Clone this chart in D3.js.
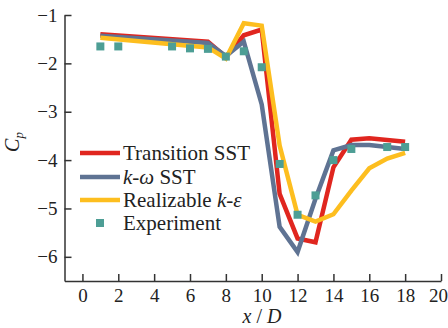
<!DOCTYPE html>
<html>
<head>
<meta charset="utf-8">
<script src="https://cdn.jsdelivr.net/npm/d3@7"></script>
<style>
  body { margin: 0; background: #fff; }
  svg { font-family: "Liberation Serif", "DejaVu Serif", serif; }
</style>
</head>
<body>
<svg id="svg" width="448" height="328"></svg>
<script>
// x / D positions of each series
var simX = [1, 7, 8, 9, 10, 11, 12, 13, 14, 15, 16, 18];
var realX = [1, 7, 8, 9, 10, 11, 12, 13, 14, 15, 16, 17, 18];
var expX = [1, 2, 5, 6, 7, 8, 9, 10, 11, 12, 13, 14, 15, 17, 18];

// Cp values
var transSST = [-1.40, -1.55, -1.87, -1.42, -1.30, -4.70, -5.62, -5.70, -4.15, -3.58, -3.55, -3.62];
var kwSST = [-1.43, -1.58, -1.85, -1.55, -2.85, -5.38, -5.90, -4.80, -3.80, -3.69, -3.69, -3.77];
var realKE = [-1.47, -1.67, -1.90, -1.17, -1.22, -3.70, -5.13, -5.27, -5.12, -4.63, -4.17, -3.97, -3.85];
var expCp = [-1.65, -1.65, -1.65, -1.69, -1.70, -1.86, -1.75, -2.08, -4.08, -5.13, -4.73, -4.00, -3.77, -3.73, -3.73];

var xTicks = [0, 2, 4, 6, 8, 10, 12, 14, 16, 18, 20];
var yTicks = [-1, -2, -3, -4, -5, -6];

var svg = d3.select("#svg");

var x = d3.scaleLinear().domain([-1, 20]).range([64.5, 441]);
var y = d3.scaleLinear().domain([-6.5, -1]).range([281, 15]);

// axes, ticks point inward
var xAxis = svg.append("g")
  .attr("transform", "translate(0,281)")
  .call(d3.axisBottom(x).tickValues(xTicks).tickSizeInner(-7).tickSizeOuter(0).tickPadding(8).tickFormat(d3.format("d")));
var yAxis = svg.append("g")
  .attr("transform", "translate(64.5,0)")
  .call(d3.axisLeft(y).tickValues(yTicks).tickSizeInner(-7).tickSizeOuter(0).tickPadding(7).tickFormat(d3.format("d")));

[xAxis, yAxis].forEach(function(a) {
  a.selectAll("path, line").attr("stroke", "#333").attr("stroke-width", 1.5);
  a.selectAll("text").attr("fill", "#222").style("font-size", "19px").style("font-family", "Liberation Serif");
});
// last x label sits at the right edge
xAxis.selectAll(".tick text").filter(function(d) { return d === 20; }).attr("dx", -3);

// lines
var series = [
  { xs: simX, ys: transSST, color: "#e0261f" },
  { xs: simX, ys: kwSST, color: "#5f7393" },
  { xs: realX, ys: realKE, color: "#fdbe1f" }
];

var line = d3.line()
  .x(function(d) { return x(d[0]); })
  .y(function(d) { return y(d[1]); });

series.forEach(function(s) {
  svg.append("path")
    .datum(d3.zip(s.xs, s.ys))
    .attr("d", line)
    .attr("fill", "none")
    .attr("stroke", s.color)
    .attr("stroke-width", 4.5)
    .attr("stroke-linejoin", "miter");
});

// experiment squares
svg.selectAll("rect.exp").data(d3.zip(expX, expCp)).enter()
  .append("rect")
  .attr("class", "exp")
  .attr("x", function(d) { return x(d[0]) - 4; })
  .attr("y", function(d) { return y(d[1]) - 4; })
  .attr("width", 8)
  .attr("height", 8)
  .attr("fill", "#4d9e95");

// legend
var leg = svg.append("g").style("font-size", "21px").attr("fill", "#222");
var legY = [153, 177, 200];
series.forEach(function(s, i) {
  leg.append("line")
    .attr("x1", 80).attr("x2", 120)
    .attr("y1", legY[i]).attr("y2", legY[i])
    .attr("stroke", s.color).attr("stroke-width", 4.5);
});
leg.append("rect").attr("x", 96).attr("y", 219).attr("width", 8).attr("height", 8).attr("fill", "#4d9e95");

leg.append("text").attr("x", 123).attr("y", 160).text("Transition SST");
var t2 = leg.append("text").attr("x", 123).attr("y", 184);
t2.append("tspan").style("font-style", "italic").text("k-\u03c9");
t2.append("tspan").text(" SST");
var t3 = leg.append("text").attr("x", 123).attr("y", 207);
t3.append("tspan").text("Realizable ");
t3.append("tspan").style("font-style", "italic").text("k-\u03b5");
leg.append("text").attr("x", 123).attr("y", 230).text("Experiment");

// axis titles
var xl = svg.append("text").attr("x", 262).attr("y", 323).attr("text-anchor", "middle")
  .style("font-size", "20px").attr("fill", "#222");
xl.append("tspan").style("font-style", "italic").text("x");
xl.append("tspan").text(" / ");
xl.append("tspan").style("font-style", "italic").text("D");

var yl = svg.append("text").attr("transform", "translate(19,142) rotate(-90)").attr("text-anchor", "middle")
  .style("font-size", "20px").attr("fill", "#222");
yl.append("tspan").style("font-style", "italic").text("C");
yl.append("tspan").style("font-style", "italic").style("font-size", "13px").attr("dy", 4).text("p");
</script>
</body>
</html>
